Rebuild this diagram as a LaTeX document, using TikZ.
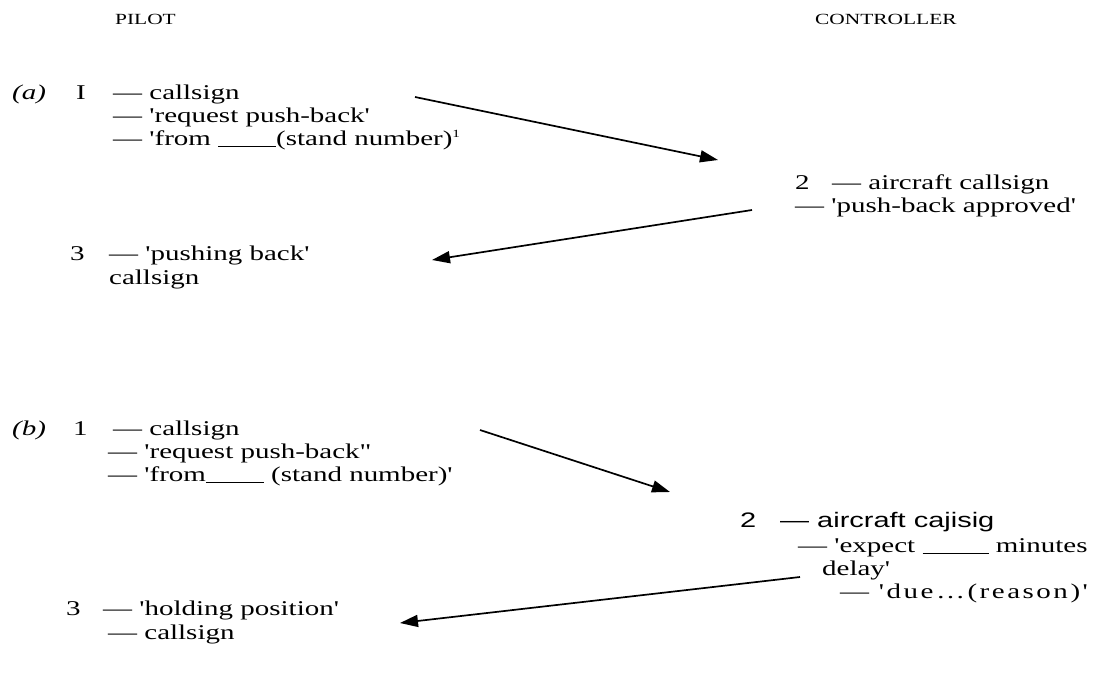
\documentclass[tikz,border=0pt]{standalone}
\usepackage{fontspec}
\setmainfont{Liberation Serif}[Ligatures=TeXOff,FakeStretch=1.38]
\setsansfont{Liberation Sans}[Ligatures=TeXOff,FakeStretch=1.38]
\usetikzlibrary{arrows.meta}
\newcommand{\blank}{\underline{\hspace{58pt}}}
\begin{document}
\begin{tikzpicture}[x=1pt,y=-1pt,
  txt/.style={anchor=base west,inner sep=0pt,font=\fontsize{21}{23}\selectfont},
  sanstxt/.style={txt,font=\sffamily\fontsize{21}{23}\selectfont},
  head/.style={anchor=base west,inner sep=0pt,font=\fontsize{15.5}{16}\selectfont},
  msg/.style={line width=1.7pt,-{Triangle[length=18pt,width=12pt]}}]

\useasboundingbox (0,0) rectangle (1112,678);

% Column heads
\node[head] (pilot) at (115,24) {PILOT};
\node[head] (ctrl) at (815,24) {CONTROLLER};

% (a) push-back approved
\node[txt,font=\itshape\fontsize{21}{23}\selectfont] (a) at (12,99) {(a)};
\node[txt] (a1n) at (76,99) {I};
\node[txt] (a1l1) at (113,99) {— callsign};
\node[txt] (a1l2) at (113,122) {— 'request push-back'};
\node[txt] (a1l3) at (113,145) {— 'from \blank(stand number)\textsuperscript{\fontsize{11}{11}\selectfont 1}};

\node[txt] (a2n) at (795,189) {2};
\node[txt] (a2l1) at (832,189) {— aircraft callsign};
\node[txt] (a2l2) at (795,212) {— 'push-back approved'};

\node[txt] (a3n) at (70,260) {3};
\node[txt] (a3l1) at (109,260) {— 'pushing back'};
\node[txt] (a3l2) at (109,284) {callsign};

% arrows between the calls
\coordinate (a12s) at (415,97);
\coordinate (a12e) at (718,160);
\coordinate (a23s) at (752,210);
\coordinate (a23e) at (432,260);
\draw[msg] (a12s) -- (a12e);
\draw[msg] (a23s) -- (a23e);

% (b) push-back delayed
\node[txt,font=\itshape\fontsize{21}{23}\selectfont] (b) at (12,435) {(b)};
\node[txt] (b1n) at (73,435) {1};
\node[txt] (b1l1) at (113,435) {— callsign};
\node[txt] (b1l2) at (108,458) {— 'request push-back"};
\node[txt] (b1l3) at (108,481) {— 'from\blank{} (stand number)'};

\node[sanstxt] (b2n) at (740,527) {2};
\node[sanstxt] (b2l1) at (780,527) {— aircraft cajisig};
\node[txt] (b2l2) at (798,552) {— 'expect \underline{\hspace{66pt}} minutes};
\node[txt] (b2l3) at (822,575) {delay'};
\node[txt,font=\addfontfeature{LetterSpace=12}\fontsize{21}{23}\selectfont] (b2l4) at (840,598) {— 'due…(reason)'};

\node[txt] (b3n) at (66,615) {3};
\node[txt] (b3l1) at (103,615) {— 'holding position'};
\node[txt] (b3l2) at (108,639) {— callsign};

\coordinate (b12s) at (480,430);
\coordinate (b12e) at (670,492);
\coordinate (b23s) at (800,577);
\coordinate (b23e) at (400,623);
\draw[msg] (b12s) -- (b12e);
\draw[msg] (b23s) -- (b23e);
\end{tikzpicture}
\end{document}
